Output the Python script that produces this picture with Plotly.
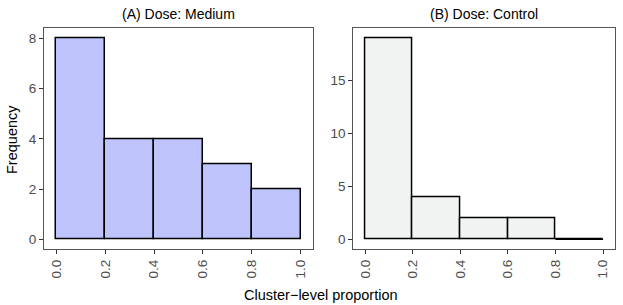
import plotly.graph_objects as go

bin_edges = [0.0, 0.2, 0.4, 0.6, 0.8, 1.0]
medium_counts = [8, 4, 4, 3, 2]
control_counts = [19, 4, 2, 2, 0]
x_ticks = [0.0, 0.2, 0.4, 0.6, 0.8, 1.0]
x_tick_labels = ["0.0", "0.2", "0.4", "0.6", "0.8", "1.0"]
y_ticks_a = [0, 2, 4, 6, 8]
y_ticks_b = [0, 5, 10, 15]
panel_titles = ["(A) Dose: Medium", "(B) Dose: Control"]
x_title = "Cluster\u2212level proportion"
y_title = "Frequency"

centers = [(bin_edges[i] + bin_edges[i + 1]) / 2 for i in range(len(bin_edges) - 1)]
widths = [bin_edges[i + 1] - bin_edges[i] for i in range(len(bin_edges) - 1)]

fig = go.Figure()

def add_hist(counts, fill, xa, ya):
    fig.add_trace(go.Bar(x=centers, y=counts, width=widths, marker=dict(color=fill, line=dict(color="black", width=1.5)),
                         xaxis=xa, yaxis=ya, showlegend=False, hoverinfo="x+y"))
    # zero-height bins drawn as a flat outline
    for i, c in enumerate(counts):
        if c == 0:
            fig.add_trace(go.Scatter(x=[bin_edges[i], bin_edges[i + 1]], y=[0, 0], mode="lines",
                                     line=dict(color="black", width=1.5), xaxis=xa, yaxis=ya,
                                     showlegend=False, hoverinfo="skip"))

add_hist(medium_counts, "#BEC4FB", "x", "y")
add_hist(control_counts, "#F1F2F2", "x2", "y2")

W, H = 623, 305
ydom = [(H - 249.3) / H, (H - 28.3) / H]
FONT = "Liberation Sans, Arial, sans-serif"
axis_common = dict(showgrid=False, zeroline=False, showline=True, mirror=True, linecolor="#555555", linewidth=1,
                   ticks="outside", ticklen=4, tickcolor="#333333", tickwidth=1,
                   tickfont=dict(family=FONT, size=13.5, color="#4D4D4D"))

ymax_a = max(medium_counts)
ymax_b = max(control_counts)

fig.update_layout(
    width=W, height=H, margin=dict(l=0, r=0, t=0, b=0),
    plot_bgcolor="white", paper_bgcolor="white", bargap=0,
    font=dict(family=FONT, size=13, color="black"),
    xaxis=dict(domain=[44 / W, 313 / W], range=[-0.05, 1.05], tickvals=x_ticks, ticktext=x_tick_labels,
               tickangle=-90, anchor="y", **axis_common),
    yaxis=dict(domain=ydom, range=[-0.05 * ymax_a, 1.05 * ymax_a], tickvals=y_ticks_a, anchor="x", **axis_common),
    xaxis2=dict(domain=[353.3 / W, 615 / W], range=[-0.05, 1.05], tickvals=x_ticks, ticktext=x_tick_labels,
                tickangle=-90, anchor="y2", **axis_common),
    yaxis2=dict(domain=ydom, range=[-0.05 * ymax_b, 1.05 * ymax_b], tickvals=y_ticks_b, anchor="x2", **axis_common),
)

strip_font = dict(family=FONT, size=14, color="black")
title_font = dict(family=FONT, size=14.5, color="black")
fig.add_annotation(text=panel_titles[0], x=(44 + 313) / 2 / W, y=1 - 14 / H, xref="paper", yref="paper",
                   showarrow=False, font=strip_font, xanchor="center", yanchor="middle")
fig.add_annotation(text=panel_titles[1], x=(353.3 + 615) / 2 / W, y=1 - 14 / H, xref="paper", yref="paper",
                   showarrow=False, font=strip_font, xanchor="center", yanchor="middle")
fig.add_annotation(text=x_title, x=321 / W, y=1 - 295 / H, xref="paper", yref="paper",
                   showarrow=False, font=title_font, xanchor="center", yanchor="middle")
fig.add_annotation(text=y_title, x=12 / W, y=1 - 140 / H, xref="paper", yref="paper", textangle=-90,
                   showarrow=False, font=title_font, xanchor="center", yanchor="middle")

fig.write_html("out.html", config={"displayModeBar": False},
               post_script="document.body.style.margin='0';document.body.style.overflow='hidden';")
